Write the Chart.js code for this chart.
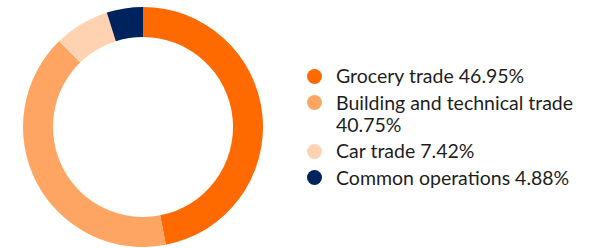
<!DOCTYPE html>
<html>
<head>
<meta charset="utf-8">
<script src="https://cdn.jsdelivr.net/npm/chart.js@4"></script>
<style>
  body { margin:0; background:#fff; width:590px; height:248px; overflow:hidden; font-family:Lato, "Open Sans", sans-serif; }
  #wrap { position:absolute; left:23px; top:7px; width:240px; height:240px; }
  #legend { position:absolute; left:307px; top:65px; color:#1e1e1e; font-size:19.5px; line-height:22px; }
  .item { position:relative; padding-left:29px; margin-bottom:4.5px; }
  .dot { position:absolute; left:0; top:3.5px; width:15px; height:15px; border-radius:50%; }
</style>
</head>
<body>
<div id="wrap"><canvas id="pie"></canvas></div>
<div id="legend"></div>
<script>
// segment data
const labels = ['Grocery trade', 'Building and technical trade', 'Car trade', 'Common operations'];
const shares = [46.95, 40.75, 7.42, 4.88];
const colors = ['#ff6a00', '#ffa564', '#ffd2b2', '#00235e'];

const chart = new Chart(document.getElementById('pie').getContext('2d'), {
  type: 'doughnut',
  data: { labels: labels, datasets: [{ data: shares, backgroundColor: colors, borderWidth: 0 }] },
  options: {
    responsive: true, maintainAspectRatio: false, animation: false,
    cutout: '75%',
    layout: { padding: 0 },
    plugins: { legend: { display: false }, tooltip: { enabled: false } }
  }
});

// legend on the right, long label wraps to a second line
const legendEl = document.getElementById('legend');
labels.forEach((l, i) => {
  const d = document.createElement('div'); d.className = 'item';
  const dot = document.createElement('span'); dot.className = 'dot';
  dot.style.background = colors[i];
  d.appendChild(dot);
  const pct = shares[i].toFixed(2) + '%';
  const t = document.createElement('div');
  t.innerHTML = i === 1 ? l + '<br>' + pct : l + ' ' + pct;
  d.appendChild(t);
  legendEl.appendChild(d);
});
</script>
</body>
</html>
